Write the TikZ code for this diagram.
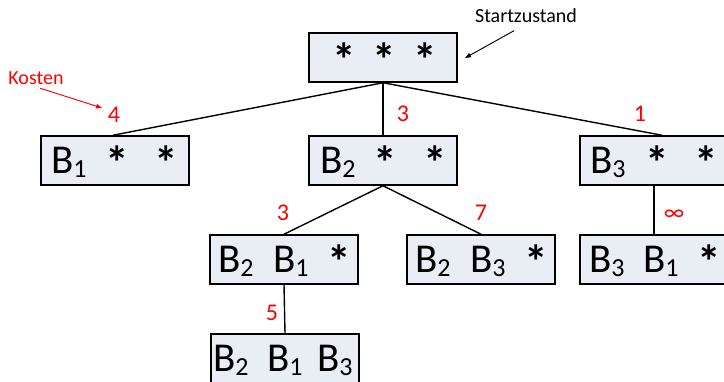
\documentclass[tikz,border=0pt]{standalone}
\usepackage{fontspec}
\usepackage{graphicx}
\setmainfont{Carlito}
\usetikzlibrary{arrows.meta,calc}
\definecolor{boxfill}{RGB}{233,237,244}
\definecolor{costred}{RGB}{255,0,0}
\newcommand\boxfont{\fontsize{41}{41}\selectfont}
\newcommand\subfont{\fontsize{26}{26}\selectfont}
\newcommand\Bs[1]{B\raisebox{-4pt}{\subfont #1}}
\newcommand\st{\raisebox{-6pt}{\scalebox{1.15}{\bfseries *}}}
\newcommand\putl[2]{\makebox[0pt][l]{\hspace*{#1}#2}}
\newcommand\putc[2]{\makebox[0pt][l]{\hspace*{#1}\makebox[0pt]{#2}}}
\newcommand\rowbox[1]{\hbox to 148pt{\rule[-11pt]{0pt}{49pt}#1\hfil}}
\tikzset{
  statebox/.style={draw=black, line width=1.5pt, fill=boxfill, inner sep=0pt,
    minimum width=148pt, minimum height=49pt, font=\boxfont},
  edge/.style={draw=black, line width=1.4pt},
  cost/.style={text=costred, font=\fontsize{24}{24}\selectfont, inner sep=0pt},
  note/.style={font=\fontsize{20}{20}\selectfont, inner sep=0pt},
  notearrow/.style={line width=0.9pt, -{Triangle[length=6pt,width=4.5pt]}}
}
\begin{document}
\begin{tikzpicture}[x=1pt,y=-1pt]
\useasboundingbox[fill=white] (0,0) rectangle (724,382);
% states
\node[statebox] (root) at (383,57.5) {\rowbox{\putc{35pt}{\st}\putc{75pt}{\st}\putc{116pt}{\st}}};
\node[statebox] (b1) at (115,160.5) {\rowbox{\putl{10pt}{\Bs{1}}\putc{76pt}{\st}\putc{125pt}{\st}}};
\node[statebox] (b2) at (383,160.5) {\rowbox{\putl{11pt}{\Bs{2}}\putc{76pt}{\st}\putc{126pt}{\st}}};
\node[statebox] (b3) at (654,160.5) {\rowbox{\putl{10pt}{\Bs{3}}\putc{77pt}{\st}\putc{126pt}{\st}}};
\node[statebox] (b21) at (284,259.5) {\rowbox{\putl{8pt}{\Bs{2}}\putl{63pt}{\Bs{1}}\putc{129pt}{\st}}};
\node[statebox] (b23) at (481,259.5) {\rowbox{\putl{8pt}{\Bs{2}}\putl{63pt}{\Bs{3}}\putc{129pt}{\st}}};
\node[statebox] (b31) at (654,259.5) {\rowbox{\putl{9pt}{\Bs{3}}\putl{63pt}{\Bs{1}}\putc{129pt}{\st}}};
\node[statebox] (b213) at (285,358.5) {\rowbox{\putl{2pt}{\Bs{2}}\putl{56pt}{\Bs{1}}\putl{106pt}{\Bs{3}}}};
% edges
\draw[edge] (root.south) -- ($(b1.north)+(-2,0)$);
\draw[edge] (root.south) -- (b2.north);
\draw[edge] (root.south) -- ($(b3.north)+(8,0)$);
\draw[edge] (b2.south) -- (b21.north);
\draw[edge] (b2.south) -- (b23.north);
\draw[edge] (b3.south) -- (b31.north);
\draw[edge] (b21.south) -- (b213.north);
% costs
\node[cost] (c4) at (114,114.5) {4};
\node[cost] (c3a) at (403,114) {3};
\node[cost] (c1) at (640,114) {1};
\node[cost] (c3b) at (283,213) {3};
\node[cost] (c7) at (481,213) {7};
\node[cost] (cinf) at (674,215) {∞};
\node[cost] (c5) at (272,313) {5};
% notes
\node[note, text=costred] (kosten) at (36,78.5) {Kosten};
\coordinate (kostentip) at (102,108);
\draw[notearrow, draw=costred, fill=costred] ($(kosten.south)+(4,3)$) -- (kostentip);
\node[note] (start) at (526,15.5) {Startzustand};
\coordinate (starttip) at (465,58);
\draw[notearrow, draw=black, fill=black] ($(start.south)+(-12,8)$) -- (starttip);
\end{tikzpicture}
\end{document}
